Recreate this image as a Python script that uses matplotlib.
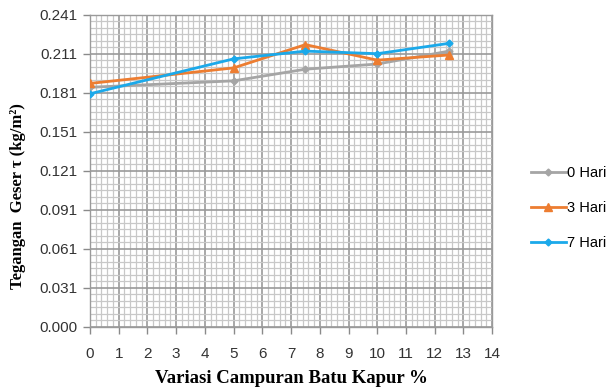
import numpy as np
import matplotlib
matplotlib.use("Agg")
import matplotlib.pyplot as plt
from matplotlib.ticker import MultipleLocator

# ── Data ──────────────────────────────────────────────────────────────────────
kapur = [0, 5, 7.5, 10, 12.5]
hari_0 = [0.185, 0.190, 0.199, 0.203, 0.213]
hari_3 = [0.188, 0.200, 0.218, 0.206, 0.210]
hari_7 = [0.180, 0.207, 0.213, 0.211, 0.219]

y_labels = ["0.000", "0.031", "0.061", "0.091", "0.121",
            "0.151", "0.181", "0.211", "0.241"]
x_ticks = list(range(0, 15))

series = [
    ("0 Hari", hari_0, "#A5A5A5", "D", 3.5),
    ("3 Hari", hari_3, "#ED7D31", "^", 5.5),
    ("7 Hari", hari_7, "#1BA9EA", "D", 3.5),
]

# ── Figure ────────────────────────────────────────────────────────────────────
fig = plt.figure(figsize=(6.16, 3.92), dpi=100)
ax = fig.add_axes([0.146, 0.167, 0.653, 0.795])

ymax = 0.241
ax.set_xlim(0, 14)
ax.set_ylim(0, ymax)

ax.set_xticks(x_ticks)
ax.set_xticklabels([str(t) for t in x_ticks])
ax.set_yticks(np.linspace(0, ymax, len(y_labels)))
ax.set_yticklabels(y_labels)
ax.xaxis.set_minor_locator(MultipleLocator(0.2))
ax.yaxis.set_minor_locator(MultipleLocator(ymax / 8 / 6))

ax.grid(which="major", color="#9a9a9a", linewidth=1.2)
ax.grid(which="minor", color="#c8c8c8", linewidth=0.9)
ax.set_axisbelow(True)

for name, vals, col, mk, ms in series:
    ax.plot(kapur, vals, color=col, linewidth=2.0, marker=mk,
            markersize=ms, label=name, zorder=3)

for lab in ax.get_xticklabels() + ax.get_yticklabels():
    lab.set_fontfamily("Liberation Sans")
    lab.set_fontsize(11)
    lab.set_color("#333333")

ax.tick_params(which="major", length=5, color="#8a8a8a", width=1.0)
ax.tick_params(which="minor", length=0)
ax.tick_params(axis="x", pad=10)
ax.tick_params(axis="y", pad=4)
for s in ax.spines.values():
    s.set_color("#9a9a9a")
    s.set_linewidth(1.0)

ax.set_xlabel("Variasi Campuran Batu Kapur %", family="Liberation Serif",
              fontweight="bold", fontsize=13.5, labelpad=6)
ax.set_ylabel("Tegangan  Geser \u03c4 (kg/m\u00b2)", family="Liberation Serif",
              fontweight="bold", fontsize=12)
ax.yaxis.set_label_coords(-0.16, 0.42)

leg = fig.legend(loc="center left", bbox_to_anchor=(0.84, 0.47), frameon=False,
                 prop={"family": "Liberation Sans", "size": 10.5},
                 handlelength=2.4, handletextpad=0.1, labelspacing=1.45)

fig.savefig("out.png", dpi=100)
